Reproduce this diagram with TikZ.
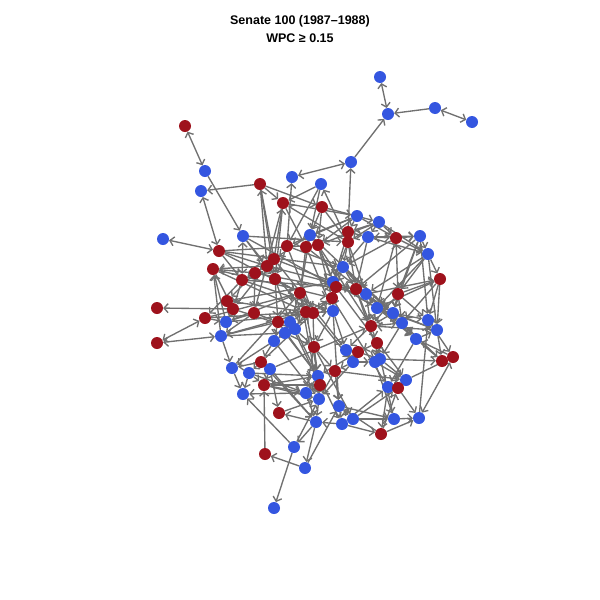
\documentclass[tikz,border=0pt]{standalone}
\usepackage{fontspec}
\setmainfont{Liberation Sans}
\usetikzlibrary{arrows.meta}
\usetikzlibrary{backgrounds}
\definecolor{demblue}{RGB}{52,86,224}
\definecolor{repred}{RGB}{158,18,28}
\definecolor{edgegray}{RGB}{112,112,112}
\tikzset{
	vote/.style={circle, inner sep=0pt, minimum size=12pt},
	dem/.style={vote, fill=demblue},
	rep/.style={vote, fill=repred},
	every edge/.style={
		draw=edgegray,
		line width=1.35pt,
		-{Straight Barb[length=4pt,width=9pt]}},
	both/.style={{Straight Barb[length=4pt,width=9pt]}-{Straight Barb[length=4pt,width=9pt]}}
}
\begin{document}
\begin{tikzpicture}[x=1pt, y=-1pt]
	\useasboundingbox (0,0) rectangle (600,600);
	\node[font=\bfseries\fontsize{12.5}{17.5}\selectfont, align=center] (title) at (300,29) {Senate 100 (1987–1988)\\WPC ≥ 0.15};
	% democrats
	\node[dem] (b1) at (380,77) {};
	\node[dem] (b2) at (388,114) {};
	\node[dem] (b3) at (435,108) {};
	\node[dem] (b4) at (472,122) {};
	\node[dem] (b5) at (351,162) {};
	\node[dem] (b6) at (205,171) {};
	\node[dem] (b7) at (201,191) {};
	\node[dem] (b8) at (292,177) {};
	\node[dem] (b9) at (321,184) {};
	\node[dem] (b10) at (357,216) {};
	\node[dem] (b11) at (379,222) {};
	\node[dem] (b12) at (163,239) {};
	\node[dem] (b13) at (243,236) {};
	\node[dem] (b14) at (310,235) {};
	\node[dem] (b15) at (368,237) {};
	\node[dem] (b16) at (420,236) {};
	\node[dem] (b17) at (428,254) {};
	\node[dem] (b18) at (343,267) {};
	\node[dem] (b19) at (333,282) {};
	\node[dem] (b20) at (366,294) {};
	\node[dem] (b21) at (377,308) {};
	\node[dem] (b22) at (393,313) {};
	\node[dem] (b23) at (402,323) {};
	\node[dem] (b24) at (428,320) {};
	\node[dem] (b25) at (437,330) {};
	\node[dem] (b26) at (416,339) {};
	\node[dem] (b27) at (333,311) {};
	\node[dem] (b28) at (290,322) {};
	\node[dem] (b29) at (295,329) {};
	\node[dem] (b30) at (285,333) {};
	\node[dem] (b31) at (274,341) {};
	\node[dem] (b32) at (226,322) {};
	\node[dem] (b33) at (221,336) {};
	\node[dem] (b34) at (346,350) {};
	\node[dem] (b35) at (353,362) {};
	\node[dem] (b36) at (375,362) {};
	\node[dem] (b37) at (380,359) {};
	\node[dem] (b38) at (406,380) {};
	\node[dem] (b39) at (388,387) {};
	\node[dem] (b40) at (232,368) {};
	\node[dem] (b41) at (249,373) {};
	\node[dem] (b42) at (270,369) {};
	\node[dem] (b43) at (318,376) {};
	\node[dem] (b44) at (243,394) {};
	\node[dem] (b45) at (306,393) {};
	\node[dem] (b46) at (319,399) {};
	\node[dem] (b47) at (339,406) {};
	\node[dem] (b48) at (316,422) {};
	\node[dem] (b49) at (342,424) {};
	\node[dem] (b50) at (353,419) {};
	\node[dem] (b51) at (394,419) {};
	\node[dem] (b52) at (419,418) {};
	\node[dem] (b53) at (294,447) {};
	\node[dem] (b54) at (305,468) {};
	\node[dem] (b55) at (274,508) {};
	% republicans
	\node[rep] (r1) at (185,126) {};
	\node[rep] (r2) at (260,184) {};
	\node[rep] (r3) at (283,203) {};
	\node[rep] (r4) at (322,207) {};
	\node[rep] (r5) at (348,232) {};
	\node[rep] (r6) at (348,242) {};
	\node[rep] (r7) at (396,238) {};
	\node[rep] (r8) at (219,251) {};
	\node[rep] (r9) at (213,269) {};
	\node[rep] (r10) at (287,246) {};
	\node[rep] (r11) at (306,247) {};
	\node[rep] (r12) at (318,245) {};
	\node[rep] (r13) at (274,259) {};
	\node[rep] (r14) at (267,266) {};
	\node[rep] (r15) at (255,273) {};
	\node[rep] (r16) at (242,280) {};
	\node[rep] (r17) at (275,279) {};
	\node[rep] (r18) at (440,279) {};
	\node[rep] (r19) at (398,294) {};
	\node[rep] (r20) at (336,287) {};
	\node[rep] (r21) at (356,289) {};
	\node[rep] (r22) at (332,298) {};
	\node[rep] (r23) at (300,293) {};
	\node[rep] (r24) at (306,312) {};
	\node[rep] (r25) at (313,313) {};
	\node[rep] (r26) at (278,322) {};
	\node[rep] (r27) at (254,313) {};
	\node[rep] (r28) at (233,309) {};
	\node[rep] (r29) at (227,301) {};
	\node[rep] (r30) at (205,318) {};
	\node[rep] (r31) at (157,308) {};
	\node[rep] (r32) at (157,343) {};
	\node[rep] (r33) at (371,326) {};
	\node[rep] (r34) at (377,343) {};
	\node[rep] (r35) at (358,352) {};
	\node[rep] (r36) at (314,347) {};
	\node[rep] (r37) at (335,371) {};
	\node[rep] (r38) at (261,362) {};
	\node[rep] (r39) at (264,385) {};
	\node[rep] (r40) at (320,385) {};
	\node[rep] (r41) at (453,357) {};
	\node[rep] (r42) at (442,361) {};
	\node[rep] (r43) at (398,388) {};
	\node[rep] (r44) at (279,413) {};
	\node[rep] (r45) at (381,434) {};
	\node[rep] (r46) at (265,454) {};
	% edges under the vertices
	\begin{scope}[on background layer]
		\foreach \s/\t in {b1/b2, b3/b4, b8/b5, r1/b6, b7/r8, b12/r8, r30/r32, r32/b33,
			b52/r41, r7/b15, r7/r19, b13/r16, r14/r28, b43/b46}
			\draw (\s) edge[both] (\t);
		\foreach \s/\t in {b3/b2, b5/b2, r5/b5, b6/b13, r2/b7, r2/r3, r2/r4, b9/r3,
			b45/b44, b40/b44, b41/b44, b53/b44, r46/r39, b54/r46, b53/b55, b48/b53,
			b48/b54, b48/r44, b49/r45, r45/b52, r45/r43, r43/b52, b37/r42, b20/r18,
			r18/b25, b17/b25, r7/b16, b11/r7, r19/r18, b15/b17, b11/b17, r28/r31,
			b33/r9, r10/b8, r13/r3, r6/r3, r6/b9, b9/b14, r13/r2, r8/r14, r14/r9,
			r15/r9, r16/r30, b32/r9, r26/b33, b33/b40, r40/r39, b42/b48, b38/r41}
			\draw (\s) edge (\t);
		\foreach \s/\t in {r3/r11, r4/r12, r4/r6, b10/r5, b10/b14, r5/b15, r6/b18,
			b14/r11, b14/r12, r12/r20, b14/r23, r6/b19, b11/b15, b15/r21, b15/b18,
			r6/r21, b16/r19, b17/r19, r7/b21, b16/b24, b11/r5, b10/r7, b13/r14,
			b13/r17, r8/r16, r9/r28, r8/b18, r10/r17, r11/r23, r12/b19, r13/r15,
			r14/r16, r15/r29, r16/r28, r17/r23, r17/r26, r17/b28, r15/r27, r14/r24,
			r13/b19, r10/r25, r11/b27, r12/r22, b18/r21, b18/b20, b19/r22, b19/b21,
			r20/r22, r20/b27, r21/b20, r21/r33, r22/r24, r22/b27, r23/r24, r23/r25,
			r23/b28, r24/b29, r25/b27, r25/r36, b20/b22, b20/b21, b21/b23, b21/r33,
			b22/b24, b23/b26, b22/r33, r19/b22, r19/b24, b24/b25, b25/r42, b24/r41,
			b26/r42, b23/b37, r33/r34, r33/b34, r34/b36, r34/r35, b34/r35, b35/r37,
			b36/b38, b37/b38, b38/b39, r43/b38, b39/r45, b39/r43, b36/b51, b35/b46,
			r35/b43, r36/b43, r36/r37, r37/b46, r37/b47, b43/r40, r40/b46, b45/b48,
			b46/b48, b47/b49, b47/b50, b50/b51, b51/b52, b49/b48, b43/b45, r40/b45,
			b42/r39, r38/b41, r38/b42, b31/r38, b30/b31, b28/b29, b29/b30, r26/b28,
			r27/r26, r28/b32, r29/r28, r30/b32, r27/b32, r27/b33, b31/b40, r38/b40,
			b42/r44, b30/r36, b29/r36, b28/r24, r26/b31, b41/r39, r39/b45, b30/b43,
			r36/b45, r36/b46, b27/b34, b27/r36, b34/b35, b35/b36, r35/b37, r33/b23,
			b26/b25, b26/b39, b21/b26, r18/b24, b17/r18, b22/b25, r19/b23, b20/r33,
			r21/b22, b19/b20, r20/r21, r22/r25, b18/r20, r5/r6, b15/b16, b16/b17,
			r7/b17}
			\draw (\s) edge (\t);
		% long crossings through the core
		\foreach \s/\t in {r8/r23, b13/r20, r9/r24, r2/r17, r3/r27, r16/b27, r15/b20,
			r29/r25, r30/r24, r28/b29, b32/r23, b33/b30, r13/b34, r14/r21, r10/b18,
			r11/b20, b14/b22, r12/r33, b19/b23, r20/b38, r22/b39, r24/b43, r25/b35,
			b27/b47, r36/b50, b31/b46, r38/b48, b41/b45, r39/b43, r26/b43, b29/b49,
			b28/r40, r23/b46, r21/b37, b20/b26, b21/b25, r19/r33, b16/b22, b17/b21,
			r18/b23, b18/b23, r6/b20, r5/b19, b10/r12, b11/r6, r4/b14, b9/r10,
			r3/r17, r2/r14, r4/b11, r3/b10, b13/r6, r8/r12, r9/r22, r16/r20,
			r29/b19, r30/r23, b32/b27, b33/r24, b31/r22, b40/r23, r38/r25, b42/r33,
			b41/b43, r39/b46, r44/b46, b53/b46, b54/b47, b49/b39, b50/r43, b47/b51,
			r37/b38, r45/b47, b51/r34, b52/b24, r42/b23, r41/b26, b25/r33, r18/b21,
			b17/b20, b16/r21, r7/b18, b11/r12, b10/r10, b14/r13}
			\draw (\s) edge (\t);
	\end{scope}
\end{tikzpicture}
\end{document}
